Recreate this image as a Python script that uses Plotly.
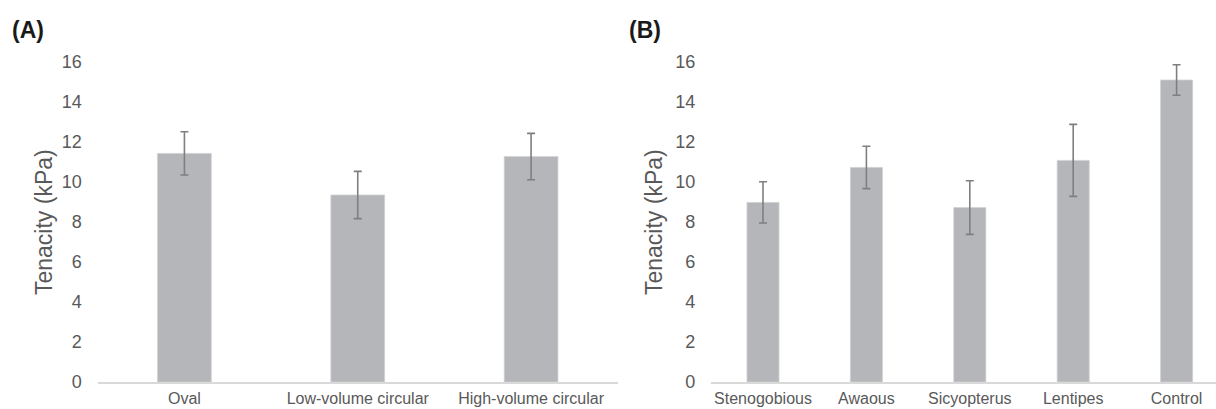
import plotly.graph_objects as go

cats_a = ["Oval", "Low-volume circular", "High-volume circular"]
vals_a = [11.43, 9.35, 11.27]
err_a = [1.08, 1.18, 1.16]

cats_b = ["Stenogobious", "Awaous", "Sicyopterus", "Lentipes", "Control"]
vals_b = [8.98, 10.73, 8.72, 11.08, 15.1]
err_b = [1.03, 1.06, 1.34, 1.8, 0.76]

y_ticks = [0, 2, 4, 6, 8, 10, 12, 14, 16]
y_title = "Tenacity (kPa)"

W, H = 1216, 409
bar_color = "#b5b6b9"
err_color = "#7f7f7f"
text_color = "#595959"
font_family = "Liberation Sans, Arial, sans-serif"

fig = go.Figure()
fig.add_trace(go.Bar(
    x=cats_a, y=vals_a, xaxis="x", yaxis="y",
    marker=dict(color=bar_color, line=dict(color="#cfd0d2", width=0.8)),
    error_y=dict(type="data", array=err_a, color=err_color, thickness=1.6, width=4),
    showlegend=False, hoverinfo="skip",
))
fig.add_trace(go.Bar(
    x=cats_b, y=vals_b, xaxis="x2", yaxis="y2",
    marker=dict(color=bar_color, line=dict(color="#cfd0d2", width=0.8)),
    error_y=dict(type="data", array=err_b, color=err_color, thickness=1.6, width=4),
    showlegend=False, hoverinfo="skip",
))

y_dom = [(H - 382) / H, (H - 62) / H]
xa_common = dict(
    showline=True, linecolor="#d9d9d9", linewidth=1.5, showgrid=False,
    ticks="", zeroline=False, automargin=False, ticklabelstandoff=1,
    tickfont=dict(size=16, color=text_color, family=font_family),
)
ya_common = dict(
    range=[0, 16], tickvals=y_ticks, showgrid=False, showline=False, zeroline=False,
    ticks="", ticklabelstandoff=15, automargin=False,
    tickfont=dict(size=18, color=text_color, family=font_family),
)

fig.update_layout(
    width=W, height=H,
    margin=dict(l=0, r=0, t=0, b=0, autoexpand=False),
    paper_bgcolor="white", plot_bgcolor="white",
    bargap=0.69,
    font=dict(family=font_family, color=text_color),
    xaxis=dict(domain=[97.75 / W, 617.75 / W], range=[-0.5, 2.5], anchor="y", **xa_common),
    yaxis=dict(domain=y_dom, anchor="x", **ya_common),
    xaxis2=dict(domain=[711.3 / W, 1.0], range=[-0.5, 4.381], anchor="y2", **xa_common),
    yaxis2=dict(domain=y_dom, anchor="x2", **ya_common),
    annotations=[
        dict(text="<b>(A)</b>", x=10 / W, y=1 - 30 / H, xref="paper", yref="paper",
             xanchor="left", yanchor="middle", showarrow=False,
             font=dict(size=23, color="#1a1a1a", family=font_family)),
        dict(text="<b>(B)</b>", x=627 / W, y=1 - 30 / H, xref="paper", yref="paper",
             xanchor="left", yanchor="middle", showarrow=False,
             font=dict(size=23, color="#1a1a1a", family=font_family)),
        dict(text=y_title, x=44 / W, y=1 - 222 / H, xref="paper", yref="paper",
             xanchor="center", yanchor="middle", textangle=-90, showarrow=False,
             font=dict(size=23, color=text_color, family=font_family)),
        dict(text=y_title, x=654 / W, y=1 - 222 / H, xref="paper", yref="paper",
             xanchor="center", yanchor="middle", textangle=-90, showarrow=False,
             font=dict(size=23, color=text_color, family=font_family)),
    ],
)

fig.write_html("out.html", config={"displayModeBar": False},
               post_script="document.body.style.margin='0';")
